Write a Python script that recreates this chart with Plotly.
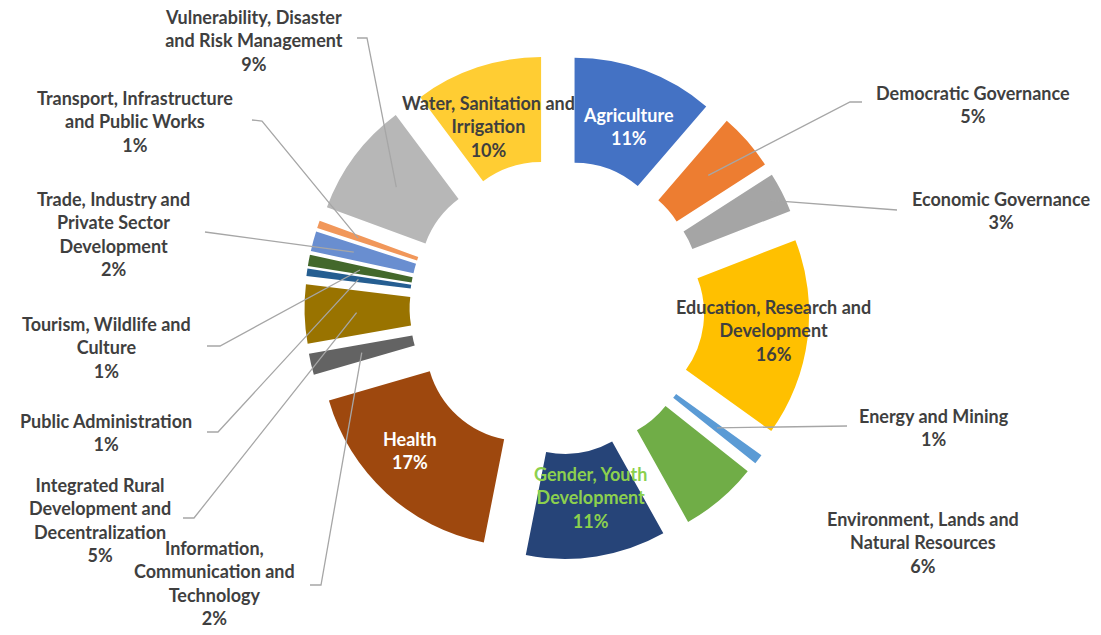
import math
import plotly.graph_objects as go

# Budget share by sector (percent of total), clockwise from 12 o'clock
sectors = [
    "Agriculture",
    "Democratic Governance",
    "Economic Governance",
    "Education, Research and Development",
    "Energy and Mining",
    "Environment, Lands and Natural Resources",
    "Gender, Youth Development",
    "Health",
    "Information, Communication and Technology",
    "Integrated Rural Development and Decentralization",
    "Public Administration",
    "Tourism, Wildlife and Culture",
    "Trade, Industry and Private Sector Development",
    "Transport, Infrastructure and Public Works",
    "Vulnerability, Disaster and Risk Management",
    "Water, Sanitation and Irrigation",
]
shares = [11.3, 4.6, 3.2, 15.8, 0.8, 6.2, 11.2, 17.4, 1.7, 4.7, 0.6, 0.9, 1.6, 0.6, 9.2, 10.2]

# Label text with manual line breaks
label_text = [
    "Agriculture",
    "Democratic Governance",
    "Economic Governance",
    "Education, Research and<br>Development",
    "Energy and Mining",
    "Environment, Lands and<br>Natural Resources",
    "Gender, Youth<br>Development",
    "Health",
    "Information,<br>Communication and<br>Technology",
    "Integrated Rural<br>Development and<br>Decentralization",
    "Public Administration",
    "Tourism, Wildlife and<br>Culture",
    "Trade, Industry and<br>Private Sector<br>Development",
    "Transport, Infrastructure<br>and Public Works",
    "Vulnerability, Disaster<br>and Risk Management",
    "Water, Sanitation and<br>Irrigation",
]

colors = [
    "#4472C4", "#ED7D31", "#A5A5A5", "#FFC000", "#5B9BD5", "#70AD47",
    "#264478", "#9E480E", "#636363", "#997300", "#255E91", "#43682B",
    "#698ED0", "#F1975A", "#B7B7B7", "#FFCD33",
]

# ---- layout / geometry (pixels) ----
W, H = 1101, 635
CX, CY = 557, 307          # pie centre
BOX = 505                  # pie box side
PULL = 0.25
HOLE = 0.48
R = BOX / (2 + 2 * PULL)   # plotly's outer radius for pulled pies

TEXT_DARK = "#3F3F3F"
FONT = "Lato, 'Open Sans', sans-serif"

# label placement: (centre x, centre y, colour, leader path start points or None, leader radius)
label_pos = [
    (628, 127, "white", None, None),
    (973, 104, TEXT_DARK, [(862, 102), (850, 102)], 150),
    (1001, 210, TEXT_DARK, [(897, 210)], 185),
    (773, 330, TEXT_DARK, None, None),
    (934, 427, TEXT_DARK, [(847, 426)], 150),
    (923, 542, TEXT_DARK, None, None),
    (590, 497, "#8CD04E", None, None),
    (410, 450, "white", None, None),
    (214, 583, TEXT_DARK, [(310, 585), (321, 585)], 150),
    (100, 520, TEXT_DARK, [(183, 518), (194, 518)], 150),
    (106, 432, TEXT_DARK, [(207, 432), (218, 432)], 150),
    (106, 347, TEXT_DARK, [(207, 346), (220, 346)], 150),
    (113, 234, TEXT_DARK, [(205, 232)], 160),
    (135, 122, TEXT_DARK, [(252, 120), (262, 121)], 160),
    (254, 40, TEXT_DARK, [(357, 38), (367, 38)], 150),
    (488, 127, TEXT_DARK, None, None),
]


def to_paper(px, py):
    return px / W, 1 - py / H


total = sum(shares)
fig = go.Figure()
fig.add_trace(go.Pie(
    labels=sectors,
    values=shares,
    sort=False,
    direction="clockwise",
    rotation=0,
    hole=HOLE,
    pull=[PULL] * len(shares),
    marker=dict(colors=colors, line=dict(width=0)),
    textinfo="none",
    hovertemplate="%{label}<br>%{percent:.0%}<extra></extra>",
    showlegend=False,
    domain=dict(
        x=[(CX - BOX / 2) / W, (CX + BOX / 2) / W],
        y=[1 - (CY + BOX / 2) / H, 1 - (CY - BOX / 2) / H],
    ),
))

annotations = []
shapes = []
cum = 0.0
for name, txt, val, (lx, ly, col, leader, rho) in zip(sectors, label_text, shares, label_pos):
    start = cum / total * 360.0
    cum += val
    end = cum / total * 360.0
    mid = math.radians((start + end) / 2)
    pct = int(val / total * 100 + 0.5)

    x, y = to_paper(lx, ly)
    annotations.append(dict(
        x=x, y=y, xref="paper", yref="paper",
        text=f"<b>{txt}<br>{pct}%</b>",
        showarrow=False, xanchor="center", yanchor="middle",
        align="center",
        font=dict(family=FONT, size=18, color=col),
    ))

    if leader:
        # point inside the pulled slice along its bisector
        dist = rho + PULL * R
        ex = CX + dist * math.sin(mid)
        ey = CY - dist * math.cos(mid)
        pts = list(leader) + [(ex, ey)]
        path = ""
        for i, (px, py) in enumerate(pts):
            qx, qy = to_paper(px, py)
            path += ("M" if i == 0 else " L") + f" {qx:.5f} {qy:.5f}"
        shapes.append(dict(
            type="path", path=path, xref="paper", yref="paper",
            line=dict(color="#A6A6A6", width=1.3), layer="above",
        ))

fig.update_layout(
    width=W, height=H,
    margin=dict(l=0, r=0, t=0, b=0),
    paper_bgcolor="white",
    plot_bgcolor="white",
    annotations=annotations,
    shapes=shapes,
)

fig.write_html("out.html")
